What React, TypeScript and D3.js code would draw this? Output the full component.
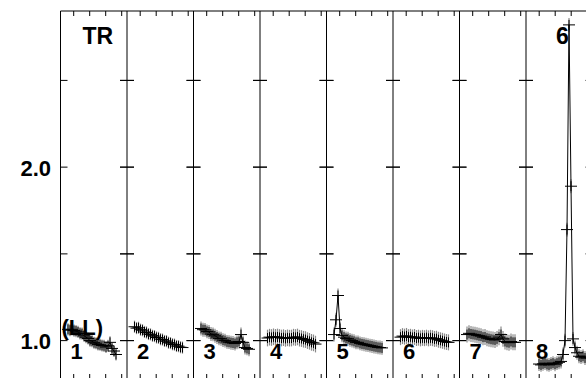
import React from 'react';
import * as d3 from 'd3';

const PANEL_LABELS = ['1', '2', '3', '4', '5', '6', '7', '8'];

const S1 = [1.065, 1.06, 1.065, 1.058, 1.055, 1.05, 1.042, 1.04, 1.028, 1.02, 1.012, 1.0, 0.997, 0.988, 0.985, 0.978, 0.976, 0.972, 0.97, 0.963, 0.97, 0.99, 0.955, 0.94, 0.92];
const S2 = [1.08, 1.072, 1.074, 1.063, 1.06, 1.05, 1.047, 1.038, 1.036, 1.028, 1.026, 1.018, 1.016, 1.008, 1.006, 0.998, 0.997, 0.988, 0.986, 0.979, 0.977, 0.969, 0.968, 0.962, 0.96];
const S3 = [1.07, 1.063, 1.062, 1.053, 1.05, 1.038, 1.036, 1.028, 1.021, 1.013, 1.011, 1.003, 1.0, 0.993, 0.991, 0.988, 0.986, 0.983, 0.99, 0.995, 1.035, 0.99, 0.96, 0.955, 0.95];
const S4 = [1.015, 1.02, 1.018, 1.022, 1.019, 1.021, 1.018, 1.015, 1.017, 1.013, 1.016, 1.014, 1.015, 1.02, 1.018, 1.021, 1.014, 1.012, 1.008, 1.006, 1.0, 0.996, 0.99, 0.987, 0.98];
const S5 = [1.035, 1.12, 1.26, 1.07, 1.03, 1.02, 1.013, 1.011, 1.004, 1.0, 0.996, 0.99, 0.99, 0.984, 0.981, 0.979, 0.976, 0.974, 0.971, 0.969, 0.966, 0.964, 0.961, 0.96, 0.958];
const S6 = [1.02, 1.026, 1.023, 1.027, 1.02, 1.022, 1.018, 1.021, 1.015, 1.017, 1.013, 1.016, 1.014, 1.017, 1.013, 1.016, 1.014, 1.01, 1.011, 1.005, 1.002, 0.999, 0.995, 0.992, 0.99];
const S7 = [1.035, 1.042, 1.038, 1.036, 1.034, 1.031, 1.028, 1.026, 1.02, 1.021, 1.014, 1.011, 1.008, 1.006, 1.004, 1.01, 1.02, 1.035, 1.01, 0.995, 0.99, 0.988, 0.995, 0.99, 0.99];
const S8 = [0.865, 0.86, 0.866, 0.87, 0.863, 0.86, 0.866, 0.87, 0.864, 0.87, 0.875, 0.88, 0.92, 1.0, 1.64, 2.82, 1.89, 1.01, 0.96, 0.93, 0.91, 0.905, 0.91, 0.9, 0.9];

const SERIES = [S1, S2, S3, S4, S5, S6, S7, S8];
const FIRST_INDEX = [3.75, 3.75, 3.75, 3.75, 3.75, 3.75, 3.75, 6.5];
const ERR = [0.035, 0.035, 0.04, 0.048, 0.04, 0.046, 0.046, 0.04];

const Y_TICKS = [1.0, 1.5, 2.0, 2.5];
const Y_LABELS = [1.0, 2.0];
const X_TICKS = [6.6, 14.6, 22.6, 30.6];

const FONT = '"Liberation Sans", Arial, Helvetica, sans-serif';

export default function App() {
  const W = 586;
  const H = 378;
  const left = 60.5;
  const top = 11;
  const bottom = 380;
  const pw = 66.5;

  const y = d3.scaleLinear().domain([0.773, 2.9]).range([bottom, top]);
  const band = d3
    .scaleBand<string>()
    .domain(PANEL_LABELS)
    .range([left, left + pw * PANEL_LABELS.length])
    .padding(0);
  const xIn = d3.scaleLinear().domain([0, 33.25]).range([0, pw]);
  const right = left + pw * PANEL_LABELS.length;

  const line = d3
    .line<[number, number]>()
    .x((d) => d[0])
    .y((d) => d[1]);

  return (
    <div style={{ position: 'absolute', left: 0, top: 0 }}>
      <svg width={W} height={H} style={{ display: 'block', background: '#fff' }}>
        <rect x={0} y={0} width={W} height={H} fill="#fff" />
        <line x1={left} x2={right} y1={top} y2={top} stroke="#000" strokeWidth={1} />
        <line x1={left} x2={left} y1={top} y2={bottom} stroke="#000" strokeWidth={1} />
        {PANEL_LABELS.map((p, k) => {
          const x0 = band(p)!;
          return (
            <g key={'fr' + p}>
              <line x1={x0 + pw} x2={x0 + pw} y1={top} y2={bottom} stroke="#000" strokeWidth={1} />
              {X_TICKS.map((t) => (
                <g key={t}>
                  <line x1={x0 + xIn(t)} x2={x0 + xIn(t)} y1={top} y2={top + 5} stroke="#000" />
                  <line x1={x0 + xIn(t)} x2={x0 + xIn(t)} y1={bottom} y2={bottom - 6} stroke="#000" />
                </g>
              ))}
              {Y_TICKS.map((t) => (
                <line
                  key={'yt' + t}
                  x1={k === 0 ? x0 : x0 - 7}
                  x2={x0 + 7}
                  y1={y(t)}
                  y2={y(t)}
                  stroke="#000"
                />
              ))}
              {Y_TICKS.map((t) => (
                <line key={'ytr' + t} x1={x0 + pw - 7} x2={x0 + pw + 7} y1={y(t)} y2={y(t)} stroke="#000" />
              ))}
            </g>
          );
        })}
        {Y_LABELS.map((v) => (
          <text
            key={'yl' + v}
            x={51}
            y={y(v) + 8.5}
            textAnchor="end"
            fontFamily={FONT}
            fontWeight="bold"
            fontSize={22}
            fill="#000"
          >
            {v.toFixed(1)}
          </text>
        ))}
        {PANEL_LABELS.map((p, k) => {
          const x0 = band(p)!;
          const pts: [number, number][] = SERIES[k].map((v, i) => [x0 + xIn(FIRST_INDEX[k] + i), y(v)]);
          const e = ERR[k];
          return (
            <g key={'d' + p}>
              {SERIES[k].map((v, i) => (
                <line
                  key={'e' + i}
                  x1={pts[i][0]}
                  x2={pts[i][0]}
                  y1={y(v + e)}
                  y2={y(v - e)}
                  stroke="#8a8a8a"
                  strokeWidth={1.2}
                />
              ))}
              <path d={line(pts) || ''} fill="none" stroke="#000" strokeWidth={1} />
              {pts.map((pt, i) => (
                <g key={'m' + i}>
                  <line x1={pt[0] - 6} x2={pt[0] + 6} y1={pt[1]} y2={pt[1]} stroke="#000" strokeWidth={1} />
                  <line x1={pt[0]} x2={pt[0]} y1={pt[1] - 5} y2={pt[1] + 5} stroke="#000" strokeWidth={1} />
                </g>
              ))}
              <text x={x0 + 10} y={358.5} fontFamily={FONT} fontWeight="bold" fontSize={22} fill="#000">
                {p}
              </text>
            </g>
          );
        })}
        <text x={82.5} y={44} fontFamily={FONT} fontWeight="bold" fontSize={23} fill="#000">
          TR
        </text>
        <text x={556} y={43.5} fontFamily={FONT} fontWeight="bold" fontSize={23} fill="#000">
          6
        </text>
        <text x={61.5} y={335} fontFamily={FONT} fontWeight="bold" fontSize={22} fill="#000">
          (LL)
        </text>
      </svg>
    </div>
  );
}
